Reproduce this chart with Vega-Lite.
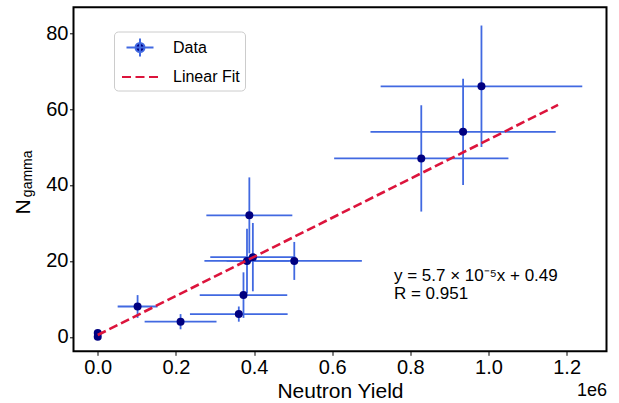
{
  "$schema": "https://vega.github.io/schema/vega-lite/v6.json",
  "width": 533,
  "height": 344,
  "autosize": {"type": "none"},
  "padding": {"left": 73.5, "top": 7.3, "right": 12.5, "bottom": 51.7},
  "background": "white",
  "config": {
    "view": {"stroke": "black", "strokeWidth": 2},
    "font": "Liberation Sans",
    "axis": {
      "labelFont": "Liberation Sans",
      "titleFont": "Liberation Sans",
      "labelColor": "black",
      "titleColor": "black",
      "titleFontWeight": "normal",
      "tickColor": "black",
      "tickWidth": 1,
      "tickSize": 4,
      "domain": false,
      "grid": false,
      "labelFlush": false,
      "labelOverlap": false
    },
    "legend": {"labelFont": "Liberation Sans"}
  },
  "datasets": {
    "pts": [
      {"x": 0, "y": 0, "xlo": 0, "xhi": 0, "ylo": 0, "yhi": 0},
      {"x": 0, "y": 1, "xlo": 0, "xhi": 0, "ylo": 1, "yhi": 1},
      {"x": 102000, "y": 8, "xlo": 51000, "xhi": 153000, "ylo": 5, "yhi": 11},
      {"x": 212000, "y": 4, "xlo": 120000, "xhi": 304000, "ylo": 2, "yhi": 6},
      {"x": 361000, "y": 6, "xlo": 236000, "xhi": 486000, "ylo": 4, "yhi": 8},
      {"x": 373000, "y": 11, "xlo": 261000, "xhi": 485000, "ylo": 5, "yhi": 17},
      {"x": 382000, "y": 20, "xlo": 273000, "xhi": 491000, "ylo": 11.5, "yhi": 28.5},
      {"x": 397000, "y": 21, "xlo": 288000, "xhi": 506000, "ylo": 12, "yhi": 30},
      {"x": 503000, "y": 20, "xlo": 330000, "xhi": 676000, "ylo": 15, "yhi": 25},
      {"x": 388000, "y": 32, "xlo": 278000, "xhi": 498000, "ylo": 22, "yhi": 42},
      {"x": 828000, "y": 47, "xlo": 605000, "xhi": 1051000, "ylo": 33, "yhi": 61},
      {"x": 935000, "y": 54, "xlo": 698000, "xhi": 1172000, "ylo": 40, "yhi": 68},
      {"x": 982000, "y": 66, "xlo": 724000, "xhi": 1240000, "ylo": 50, "yhi": 82}
    ],
    "fit": [
      {"x": 0, "y": 0.49},
      {"x": 1178000, "y": 61.1}
    ],
    "ann": [
      {"x": 758000, "y": 14.6, "label": "y = 5.7 × 10⁻⁵x + 0.49"},
      {"x": 758000, "y": 10.1, "label": "R = 0.951"}
    ],
    "leg": [
      {"series": "Data"},
      {"series": "Linear Fit"}
    ]
  },
  "resolve": {"axis": {"x": "independent", "y": "independent"}},
  "layer": [
    {
      "data": {"name": "pts"},
      "mark": {"type": "rule", "color": "#4169E1", "strokeWidth": 1.8},
      "encoding": {
        "x": {"field": "xlo", "type": "quantitative", "scale": {"domain": [-62000, 1302000], "nice": false, "zero": false}, "axis": null},
        "x2": {"field": "xhi"},
        "y": {"field": "y", "type": "quantitative", "scale": {"domain": [-3.8, 86.8], "nice": false, "zero": false}, "axis": null}
      }
    },
    {
      "data": {"name": "pts"},
      "mark": {"type": "rule", "color": "#4169E1", "strokeWidth": 1.8},
      "encoding": {
        "x": {"field": "x", "type": "quantitative", "scale": {"domain": [-62000, 1302000], "nice": false, "zero": false}, "axis": null},
        "y": {"field": "ylo", "type": "quantitative", "scale": {"domain": [-3.8, 86.8], "nice": false, "zero": false}, "axis": null},
        "y2": {"field": "yhi"}
      }
    },
    {
      "data": {"name": "pts"},
      "mark": {"type": "point", "filled": true, "shape": "circle", "color": "#000080", "size": 64, "opacity": 1},
      "encoding": {
        "x": {
          "field": "x", "type": "quantitative",
          "scale": {"domain": [-62000, 1302000], "nice": false, "zero": false},
          "axis": {
            "orient": "bottom",
            "values": [0, 200000, 400000, 600000, 800000, 1000000, 1200000],
            "labelExpr": "format(datum.value / 1000000, '.1f')",
            "labelFontSize": 20,
            "labelPadding": 2,
            "title": "Neutron Yield",
            "titleFontSize": 21,
            "titleY": 46,
            "titleBaseline": "alphabetic"
          }
        },
        "y": {
          "field": "y", "type": "quantitative",
          "scale": {"domain": [-3.8, 86.8], "nice": false, "zero": false},
          "axis": {
            "orient": "left",
            "values": [0, 20, 40, 60, 80],
            "labelFontSize": 20,
            "labelPadding": 1.5,
            "title": "N",
            "titleFontSize": 21,
            "titleAngle": 270,
            "titleX": -44.2,
            "titleY": 199,
            "titleAlign": "center",
            "titleBaseline": "alphabetic"
          }
        }
      }
    },
    {
      "data": {"name": "fit"},
      "mark": {"type": "line", "color": "#DC143C", "strokeWidth": 2.6, "strokeDash": [9, 4]},
      "encoding": {
        "x": {
          "field": "x", "type": "quantitative",
          "scale": {"domain": [-62000, 1302000], "nice": false, "zero": false},
          "axis": {
            "orient": "bottom",
            "labels": false, "ticks": false, "domain": false,
            "title": "1e6",
            "titleFontSize": 18,
            "titleX": 533,
            "titleY": 44,
            "titleAlign": "right",
            "titleBaseline": "alphabetic"
          }
        },
        "y": {
          "field": "y", "type": "quantitative",
          "scale": {"domain": [-3.8, 86.8], "nice": false, "zero": false},
          "axis": {
            "orient": "left",
            "labels": false, "ticks": false, "domain": false,
            "title": "gamma",
            "titleFontSize": 14,
            "titleAngle": 270,
            "titleX": -42,
            "titleY": 166,
            "titleAlign": "center",
            "titleBaseline": "alphabetic"
          }
        }
      }
    },
    {
      "data": {"name": "ann"},
      "mark": {"type": "text", "align": "left", "baseline": "alphabetic", "fontSize": 17, "color": "black", "font": "Liberation Sans"},
      "encoding": {
        "x": {"field": "x", "type": "quantitative", "scale": {"domain": [-62000, 1302000], "nice": false, "zero": false}, "axis": null},
        "y": {"field": "y", "type": "quantitative", "scale": {"domain": [-3.8, 86.8], "nice": false, "zero": false}, "axis": null},
        "text": {"field": "label"}
      }
    },
    {
      "data": {"name": "leg"},
      "mark": {"type": "point", "filled": true, "strokeWidth": 2, "opacity": 1},
      "encoding": {
        "x": {"datum": -10000000, "type": "quantitative", "scale": {"domain": [-62000, 1302000], "nice": false, "zero": false}, "axis": null},
        "y": {"datum": 0, "type": "quantitative", "scale": {"domain": [-3.8, 86.8], "nice": false, "zero": false}, "axis": null},
        "shape": {
          "field": "series", "type": "nominal",
          "scale": {"domain": ["Data", "Linear Fit"], "range": ["M-1.35,0H1.35M0,-0.9V0.9M0.45,0A0.45,0.45,0,1,1,-0.45,0A0.45,0.45,0,1,1,0.45,0Z", "M-1.8,0H-0.9M-0.45,0H0.45M0.9,0H1.8"]},
          "legend": {
            "orient": "none",
            "legendX": 40.5,
            "legendY": 24.2,
            "title": null,
            "padding": 5,
            "symbolSize": 400,
            "symbolStrokeWidth": 2,
            "symbolOpacity": 1,
            "symbolOffset": 10,
            "labelOffset": 22,
            "labelFontSize": 16,
            "labelColor": "black",
            "rowPadding": 5.5,
            "strokeColor": "#cccccc",
            "fillColor": "white",
            "cornerRadius": 4
          }
        },
        "fill": {"field": "series", "type": "nominal", "scale": {"domain": ["Data", "Linear Fit"], "range": ["#000080", "transparent"]}},
        "stroke": {"field": "series", "type": "nominal", "scale": {"domain": ["Data", "Linear Fit"], "range": ["#4169E1", "#DC143C"]}}
      }
    }
  ]
}
